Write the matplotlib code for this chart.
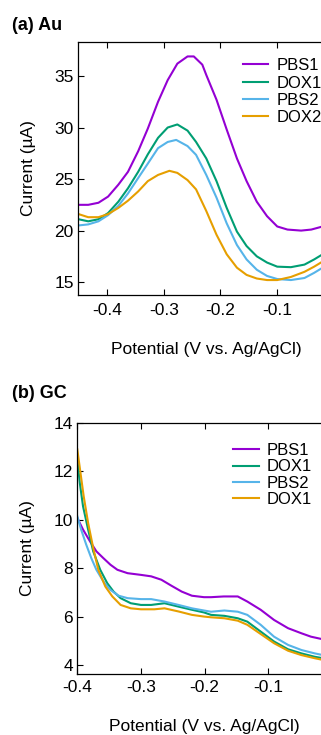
import numpy as np
import matplotlib
matplotlib.use("Agg")
import matplotlib.pyplot as plt

plt.rcParams["font.family"] = ["Liberation Sans", "DejaVu Sans"]
plt.rcParams["font.size"] = 12

colors = {"PBS1": "#9400D3", "DOX1": "#009E73", "PBS2": "#56B4E9", "DOX2": "#E69F00"}

# (a) Au electrode
au_pbs1_x = [-0.45, -0.433, -0.415, -0.398, -0.380, -0.363, -0.345, -0.328, -0.310, -0.293,
             -0.276, -0.258, -0.247, -0.232, -0.225, -0.207, -0.189, -0.171, -0.154, -0.136,
             -0.118, -0.1, -0.082, -0.058, -0.040, -0.020]
au_pbs1_y = [22.5, 22.5, 22.7, 23.3, 24.45, 25.7, 27.7, 29.9, 32.5, 34.6,
             36.2, 36.9, 36.9, 36.1, 35.1, 32.7, 29.8, 27.0, 24.8, 22.8,
             21.4, 20.4, 20.1, 20.0, 20.1, 20.4]
au_dox1_x = [-0.45, -0.433, -0.415, -0.398, -0.380, -0.363, -0.345, -0.328, -0.310, -0.293,
             -0.276, -0.258, -0.243, -0.225, -0.207, -0.189, -0.171, -0.154, -0.136, -0.118,
             -0.1, -0.076, -0.052, -0.035, -0.020]
au_dox1_y = [21.1, 20.9, 21.1, 21.7, 22.8, 24.1, 25.7, 27.4, 29.0, 30.0,
             30.3, 29.7, 28.6, 27.0, 24.8, 22.2, 19.9, 18.5, 17.5, 16.9,
             16.5, 16.45, 16.7, 17.2, 17.7]
au_pbs2_x = [-0.45, -0.433, -0.415, -0.398, -0.380, -0.363, -0.345, -0.328, -0.310, -0.293,
             -0.278, -0.258, -0.243, -0.225, -0.207, -0.189, -0.171, -0.154, -0.136, -0.118,
             -0.1, -0.076, -0.052, -0.035, -0.020]
au_pbs2_y = [20.5, 20.6, 20.9, 21.5, 22.4, 23.6, 25.1, 26.5, 28.0, 28.6,
             28.8, 28.2, 27.35, 25.4, 23.2, 20.7, 18.6, 17.2, 16.2, 15.6,
             15.3, 15.2, 15.4, 15.9, 16.4]
au_dox2_x = [-0.45, -0.433, -0.415, -0.398, -0.380, -0.363, -0.345, -0.328, -0.310, -0.290,
             -0.276, -0.258, -0.243, -0.225, -0.207, -0.189, -0.171, -0.154, -0.136, -0.118,
             -0.1, -0.076, -0.052, -0.035, -0.020]
au_dox2_y = [21.6, 21.3, 21.3, 21.6, 22.2, 22.9, 23.8, 24.8, 25.4, 25.8,
             25.6, 24.9, 24.0, 21.9, 19.6, 17.7, 16.4, 15.7, 15.35, 15.2,
             15.2, 15.5, 16.0, 16.5, 17.0]

# (b) GC electrode
gc_pbs1_x = [-0.4, -0.391, -0.380, -0.370, -0.359, -0.348, -0.337, -0.321, -0.3, -0.284,
             -0.268, -0.252, -0.236, -0.220, -0.201, -0.19, -0.17, -0.148, -0.133, -0.112,
             -0.091, -0.069, -0.048, -0.033, -0.014]
gc_pbs1_y = [10.07, 9.59, 9.1, 8.69, 8.41, 8.14, 7.93, 7.79, 7.72, 7.66,
             7.52, 7.27, 7.03, 6.86, 6.8, 6.8, 6.83, 6.83, 6.62, 6.28,
             5.86, 5.52, 5.31, 5.17, 5.06]
gc_dox1_x = [-0.4, -0.396, -0.391, -0.383, -0.375, -0.364, -0.353, -0.343, -0.332, -0.316,
             -0.3, -0.284, -0.263, -0.241, -0.220, -0.201, -0.19, -0.169, -0.148, -0.133,
             -0.112, -0.091, -0.069, -0.048, -0.027, -0.014]
gc_dox1_y = [12.48, 11.5, 10.55, 9.59, 8.69, 7.93, 7.38, 7.03, 6.76, 6.55,
             6.48, 6.48, 6.55, 6.41, 6.28, 6.17, 6.07, 6.03, 5.93, 5.79,
             5.38, 4.97, 4.65, 4.48, 4.34, 4.28]
gc_pbs2_x = [-0.4, -0.394, -0.386, -0.378, -0.370, -0.359, -0.348, -0.335, -0.321, -0.3,
             -0.284, -0.263, -0.241, -0.220, -0.201, -0.19, -0.169, -0.148, -0.133, -0.112,
             -0.091, -0.069, -0.048, -0.027, -0.014]
gc_pbs2_y = [10.14, 9.59, 8.97, 8.41, 7.93, 7.45, 7.1, 6.86, 6.76, 6.72,
             6.72, 6.62, 6.48, 6.34, 6.25, 6.2, 6.25, 6.2, 6.07, 5.66,
             5.17, 4.83, 4.62, 4.48, 4.41]
gc_dox1b_x = [-0.4, -0.395, -0.390, -0.383, -0.375, -0.367, -0.356, -0.345, -0.332, -0.316,
              -0.3, -0.279, -0.263, -0.241, -0.220, -0.201, -0.19, -0.169, -0.148, -0.133,
              -0.112, -0.091, -0.069, -0.048, -0.027, -0.014]
gc_dox1b_y = [12.9, 11.93, 10.97, 9.86, 8.83, 7.93, 7.24, 6.83, 6.48, 6.34,
              6.3, 6.3, 6.34, 6.21, 6.07, 6.0, 5.97, 5.93, 5.83, 5.66,
              5.28, 4.9, 4.59, 4.41, 4.28, 4.21]

W, H = 321, 735
fig = plt.figure(figsize=(W / 100, H / 100), dpi=100)


def px_axes(left, right, top, bottom):
    return fig.add_axes([left / W, 1 - bottom / H, (right - left) / W, (bottom - top) / H])


def style(ax, xpad):
    ax.tick_params(direction="in", length=4, width=0.8, labelsize=12.5,
                   top=True, right=True)
    ax.tick_params(axis="x", pad=xpad)
    ax.tick_params(axis="y", pad=3)
    for s in ax.spines.values():
        s.set_linewidth(0.9)


lw = 1.5
leg_kw = dict(loc="upper left", frameon=False, borderpad=0, borderaxespad=0,
              handlelength=1.55, handletextpad=0.5, fontsize=12)

ax1 = px_axes(78, 334, 42, 295)
ax1.plot(au_pbs1_x, au_pbs1_y, color=colors["PBS1"], lw=lw, label="PBS1")
ax1.plot(au_dox1_x, au_dox1_y, color=colors["DOX1"], lw=lw, label="DOX1")
ax1.plot(au_pbs2_x, au_pbs2_y, color=colors["PBS2"], lw=lw, label="PBS2")
ax1.plot(au_dox2_x, au_dox2_y, color=colors["DOX2"], lw=lw, label="DOX2")
ax1.set_xlim(-0.451, 0.0)
ax1.set_ylim(13.75, 38.3)
ax1.set_xticks([-0.4, -0.3, -0.2, -0.1])
ax1.set_xticklabels(["-0.4", "-0.3", "-0.2", "-0.1"])
ax1.set_yticks([15, 20, 25, 30, 35])
style(ax1, 5.5)
ax1.set_ylabel("Current (\u00b5A)", fontsize=12.5, va="center")
ax1.yaxis.set_label_coords(-0.195, 0.5)
ax1.set_xlabel("Potential (V vs. Ag/AgCl)", fontsize=12.5, va="center")
ax1.xaxis.set_label_coords(0.5, -0.217)
ax1.legend(bbox_to_anchor=(0.643, 0.936), labelspacing=0.14, **leg_kw)

ax2 = px_axes(77.3, 332, 422.7, 674)
ax2.plot(gc_pbs1_x, gc_pbs1_y, color=colors["PBS1"], lw=lw, label="PBS1")
ax2.plot(gc_dox1_x, gc_dox1_y, color=colors["DOX1"], lw=lw, label="DOX1")
ax2.plot(gc_pbs2_x, gc_pbs2_y, color=colors["PBS2"], lw=lw, label="PBS2")
ax2.plot(gc_dox1b_x, gc_dox1b_y, color=colors["DOX2"], lw=lw, label="DOX1")
ax2.set_xlim(-0.4, 0.0)
ax2.set_ylim(3.63, 14.0)
ax2.set_xticks([-0.4, -0.3, -0.2, -0.1])
ax2.set_xticklabels(["-0.4", "-0.3", "-0.2", "-0.1"])
ax2.set_yticks([4, 6, 8, 10, 12, 14])
style(ax2, 4.5)
ax2.set_ylabel("Current (\u00b5A)", fontsize=12.5, va="center")
ax2.yaxis.set_label_coords(-0.195, 0.5)
ax2.set_xlabel("Potential (V vs. Ag/AgCl)", fontsize=12.5, va="center")
ax2.xaxis.set_label_coords(0.5, -0.21)
ax2.legend(bbox_to_anchor=(0.61, 0.919), labelspacing=0.085, **leg_kw)

fig.text(12 / W, 1 - 25 / H, "(a) Au", fontsize=13, fontweight="bold", va="center")
fig.text(12 / W, 1 - 394 / H, "(b) GC", fontsize=13, fontweight="bold", va="center")

fig.savefig("out.png", dpi=100)
